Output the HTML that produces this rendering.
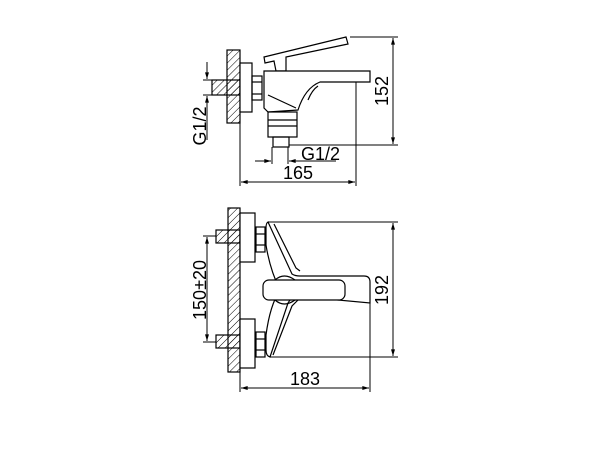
<!DOCTYPE html>
<html><head><meta charset="utf-8"><style>
html,body{margin:0;padding:0;background:#fff;width:600px;height:450px;overflow:hidden}
svg{display:block}
text{font-family:"Liberation Sans",sans-serif;fill:#000}
</style></head><body>
<svg width="600" height="450" viewBox="0 0 600 450" xmlns="http://www.w3.org/2000/svg">
<defs>
<pattern id="h" width="5" height="5" patternUnits="userSpaceOnUse" patternTransform="rotate(45)">
<line x1="0" y1="0" x2="0" y2="5" stroke="#000" stroke-width="1"/>
</pattern>
<marker id="a" viewBox="0 0 10 6" refX="10" refY="3" markerWidth="8" markerHeight="4" orient="auto-start-reverse">
<path d="M0,0 L10,3 L0,6 z" fill="#000"/>
</marker>
</defs>
<g fill="none" stroke="#000" stroke-width="1.2">
<rect x="227" y="50" width="13" height="73" fill="url(#h)"/>
<rect x="212" y="80" width="28" height="15" fill="url(#h)"/>
<rect x="240" y="63" width="12" height="49" fill="#fff"/>
<rect x="252" y="76" width="10" height="24"/>
<line x1="252" y1="82" x2="262" y2="82"/><line x1="252" y1="94" x2="262" y2="94"/>
<polygon points="264,57 346,37 348,44 286,57 286,71 276,71 274,61 265,63" fill="#fff"/>
<path d="M264,71 L370,71 L370,82 L320,82 Q305,88 298,110 L268,112 L264,108 Z" fill="#fff"/>
<path d="M268,95 L296,108"/><path d="M308,100 Q312,90 318,86"/>
<rect x="268" y="112" width="29" height="25"/>
<line x1="268" y1="120" x2="297" y2="120"/><line x1="268" y1="126" x2="297" y2="126"/>
<rect x="273" y="137" width="16" height="10"/>
<line x1="350" y1="37" x2="398" y2="37" stroke-width="1"/>
<line x1="289" y1="145" x2="398" y2="145" stroke-width="1"/>
<line x1="393" y1="38" x2="393" y2="144" marker-start="url(#a)" marker-end="url(#a)" stroke-width="1"/>
<line x1="356" y1="82" x2="356" y2="186" stroke-width="1"/>
<line x1="240" y1="112" x2="240" y2="186" stroke-width="1"/>
<line x1="241" y1="182" x2="355" y2="182" marker-start="url(#a)" marker-end="url(#a)" stroke-width="1"/>
<line x1="272" y1="147" x2="272" y2="164" stroke-width="1"/>
<line x1="288" y1="147" x2="288" y2="164" stroke-width="1"/>
<line x1="255" y1="161" x2="271" y2="161" marker-end="url(#a)" stroke-width="1"/>
<line x1="289" y1="161" x2="336" y2="161" marker-start="url(#a)" stroke-width="1"/>
<line x1="203" y1="80" x2="216" y2="80" stroke-width="1"/>
<line x1="203" y1="95" x2="216" y2="95" stroke-width="1"/>
<line x1="207" y1="62" x2="207" y2="79" marker-end="url(#a)" stroke-width="1"/>
<line x1="207" y1="96" x2="207" y2="140" marker-start="url(#a)" stroke-width="1"/>
<rect x="228" y="208" width="12" height="164" fill="url(#h)"/>
<rect x="216" y="230" width="24" height="13" fill="url(#h)"/>
<rect x="216" y="335" width="24" height="13" fill="url(#h)"/>
<rect x="240" y="213" width="15" height="49" fill="#fff"/>
<rect x="240" y="319" width="15" height="49" fill="#fff"/>
<rect x="256" y="227" width="9" height="25"/><line x1="256" y1="234" x2="265" y2="234"/><line x1="256" y1="245" x2="265" y2="245"/>
<rect x="256" y="332" width="9" height="25"/><line x1="256" y1="339" x2="265" y2="339"/><line x1="256" y1="350" x2="265" y2="350"/>
<path d="M268,222 L292,274 Q295,276 300,276 L364,276 Q370,276 370,282 L370,303 L295,296 Q291,298 288,303 L270,357 Q266,356 266,350 L266,335 Q270,305 280,290 Q270,270 266,245 L266,228 Q266,223 268,222 Z" fill="#fff"/>
<path d="M274,224 L296,268 L300,271"/>
<path d="M273,355 L292,306 L298,300"/>
<rect x="263" y="280" width="82" height="20" rx="6" fill="#fff"/>
<path d="M275,280 Q284,272 295,280"/><path d="M275,300 Q284,308 295,300"/>
<line x1="268" y1="222" x2="398" y2="222" stroke-width="1"/>
<line x1="270" y1="357" x2="398" y2="357" stroke-width="1"/>
<line x1="393" y1="223" x2="393" y2="356" marker-start="url(#a)" marker-end="url(#a)" stroke-width="1"/>
<line x1="370" y1="303" x2="370" y2="392" stroke-width="1"/>
<line x1="240" y1="372" x2="240" y2="392" stroke-width="1"/>
<line x1="241" y1="388" x2="369" y2="388" marker-start="url(#a)" marker-end="url(#a)" stroke-width="1"/>
<line x1="203" y1="236" x2="216" y2="236" stroke-width="1"/>
<line x1="203" y1="342" x2="216" y2="342" stroke-width="1"/>
<line x1="207" y1="237" x2="207" y2="341" marker-start="url(#a)" marker-end="url(#a)" stroke-width="1"/>
</g>
<g font-size="18">
<text x="301" y="160">G1/2</text>
<text x="298" y="179" text-anchor="middle">165</text>
<text x="305" y="385" text-anchor="middle">183</text>
<text transform="translate(388,91) rotate(-90)" text-anchor="middle">152</text>
<text transform="translate(388,290) rotate(-90)" text-anchor="middle">192</text>
<text transform="translate(206,126) rotate(-90)" text-anchor="middle">G1/2</text>
<text transform="translate(206,290) rotate(-90)" text-anchor="middle">150±20</text>
</g>
</svg>
</body></html>
